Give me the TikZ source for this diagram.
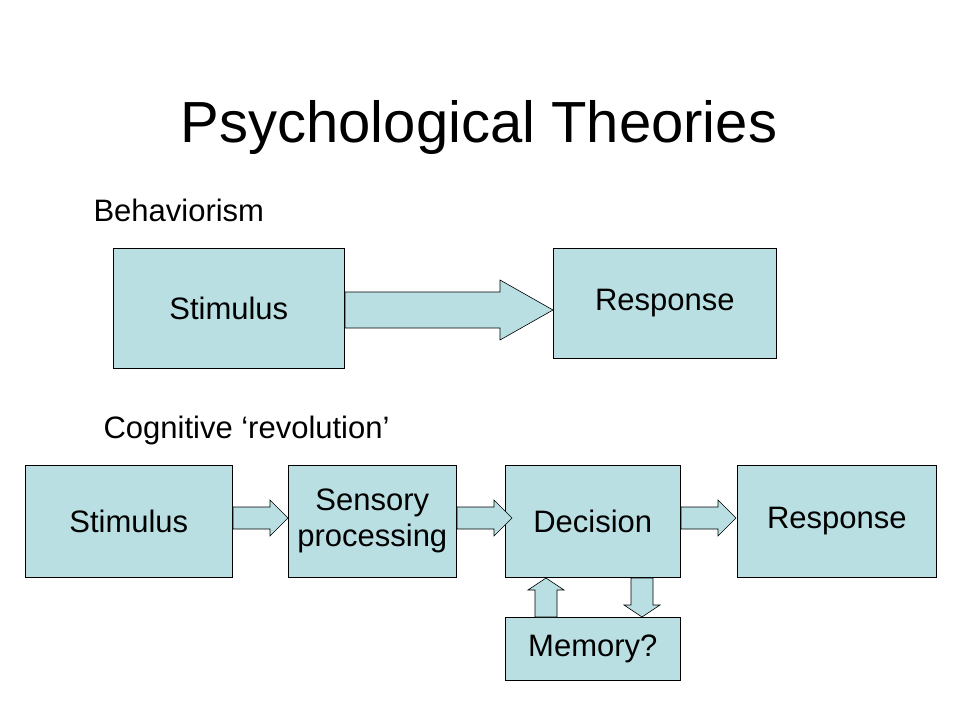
\documentclass[tikz,border=0pt]{standalone}
\usepackage{fontspec}
\setmainfont{Liberation Sans}
\begin{document}
\begin{tikzpicture}[x=1pt,y=-1pt,
 box/.style={draw=black,line width=0.6pt,fill=boxc,inner sep=0pt,anchor=north west,font=\fontsize{31pt}{36pt}\selectfont},
 lab/.style={anchor=west,font=\fontsize{31pt}{36pt}\selectfont},
 arr/.style={draw=black,line width=0.6pt,fill=boxc,line join=miter}]
\definecolor{boxc}{HTML}{B9DFE3}
\useasboundingbox (0,0) rectangle (960,720);
\node[font=\fontsize{58pt}{66pt}\selectfont] at (479,128) {Psychological Theories};
\node[lab] at (90,210) {Behaviorism};
\node[lab] at (100,430) {Cognitive `revolution'};
\node[box,minimum width=231pt,minimum height=120pt] (s1) at (113,248) {Stimulus};
\node[box,minimum width=223pt,minimum height=110pt] (r1) at (553,248) {Response};
\draw[arr] (345,292) -- (500,292) -- (500,280) -- (553,310) -- (500,340) -- (500,328) -- (345,328) -- cycle;
\foreach \n/\x/\w/\t in {s2/25/207/Stimulus, sp/288/168/{Sensory\\processing}, de/505/175/Decision, r2/737/199/Response}
  \node[box,minimum width=\w pt,minimum height=112pt,align=center] (\n) at (\x,465) {\t};
\foreach \a in {233,457,681}
  \draw[arr] (\a,507) -- (\a+37,507) -- (\a+37,500) -- (\a+55,518) -- (\a+37,536) -- (\a+37,529) -- (\a,529) -- cycle;
\node[box,minimum width=175pt,minimum height=63pt] (me) at (505,617) {Memory?};
\draw[arr] (535,617) -- (535,590) -- (528,590) -- (546,578) -- (564,590) -- (557,590) -- (557,617) -- cycle;
\draw[arr] (631,578) -- (631,605) -- (624,605) -- (642,617) -- (660,605) -- (653,605) -- (653,578) -- cycle;
\end{tikzpicture}
\end{document}
